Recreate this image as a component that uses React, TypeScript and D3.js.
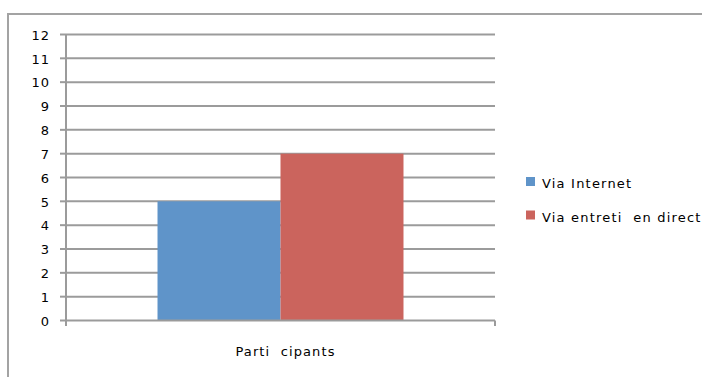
import React from "react";
import * as d3 from "d3";

const categories = ["Parti  cipants"];
const seriesNames = ["Via Internet", "Via entreti  en direct"];
const seriesValues = [5, 7];
const seriesColors = ["#5f94c9", "#cb645d"];
const yTicks = [0, 1, 2, 3, 4, 5, 6, 7, 8, 9, 10, 11, 12];

export default function App() {
  const W = 703, H = 377;
  const x0 = 66, x1 = 495, yTop = 34.5, yBot = 320.5;
  const y = d3.scaleLinear().domain([0, 12]).range([yBot, yTop]);
  const xCat = d3.scaleBand().domain(categories).range([x0, x1]).paddingInner(0).paddingOuter(0.372);
  const xSeries = d3.scaleBand().domain(seriesNames).range([0, xCat.bandwidth()]);
  const font = "DejaVu Sans, Verdana, sans-serif";
  const grid = "#9b9b9b";
  return (
    <svg width={W} height={H} style={{ position: "absolute", left: 0, top: 0 }} xmlSpace="preserve">
      <rect x={0} y={0} width={W} height={H} fill="#fff" />
      <path d={`M8,${H} V14 H702`} fill="none" stroke="#a3a3a3" strokeWidth={2} />
      {yTicks.map((t) => (
        <g key={t}>
          {t > 0 && <line x1={x0} x2={x1} y1={y(t)} y2={y(t)} stroke={grid} strokeWidth={2} />}
          <line x1={60} x2={x0} y1={y(t)} y2={y(t)} stroke={grid} strokeWidth={2} />
          <text x={50} y={y(t)} dy="0.4em" textAnchor="end" fontFamily={font} fontSize={13} letterSpacing={1} fill="#000">{t}</text>
        </g>
      ))}
      {categories.map((c) =>
        seriesNames.map((s, i) => (
          <rect key={s} x={(xCat(c) as number) + (xSeries(s) as number)} width={xSeries.bandwidth()}
            y={y(seriesValues[i])} height={yBot - y(seriesValues[i])} fill={seriesColors[i]} />
        ))
      )}
      <line x1={x0} x2={x0} y1={yTop} y2={326} stroke={grid} strokeWidth={2} />
      <line x1={x0} x2={x1} y1={yBot} y2={yBot} stroke={grid} strokeWidth={2} />
      <line x1={x1} x2={x1} y1={yBot} y2={326} stroke={grid} strokeWidth={2} />
      {categories.map((c) => (
        <text key={c} x={(xCat(c) as number) + xCat.bandwidth() / 2 + 5} y={356} textAnchor="middle"
          fontFamily={font} fontSize={13} letterSpacing={1.1} fill="#000" style={{ whiteSpace: "pre" }}>{c}</text>
      ))}
      {seriesNames.map((s, i) => (
        <g key={s} transform={`translate(526,${177 + i * 33.5})`}>
          <rect x={0} y={0} width={9} height={9} fill={seriesColors[i]} />
          <text x={16} y={11} fontFamily={font} fontSize={13} letterSpacing={1.2} fill="#000" style={{ whiteSpace: "pre" }}>{s}</text>
        </g>
      ))}
    </svg>
  );
}
